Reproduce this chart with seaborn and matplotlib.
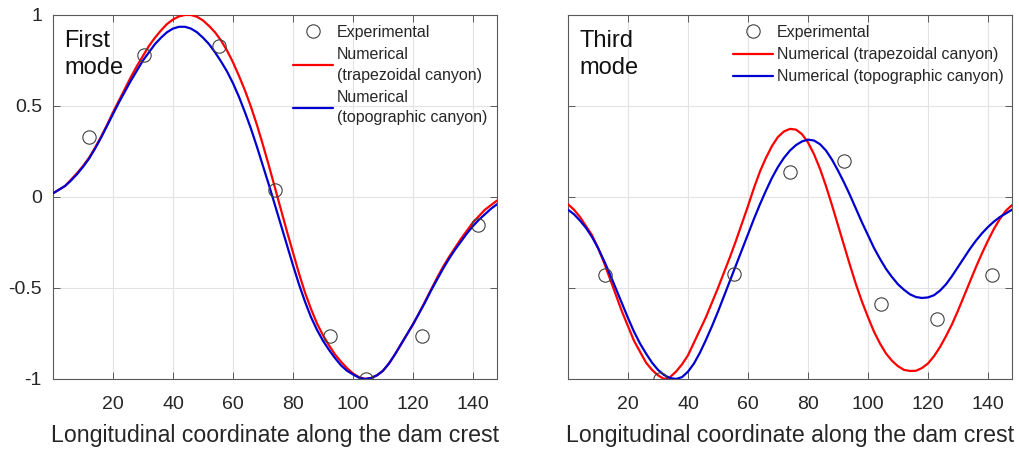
import matplotlib
matplotlib.use("Agg")
import matplotlib.pyplot as plt
import seaborn as sns

sns.set_theme(style="whitegrid")
plt.rcParams["font.family"] = ["Liberation Sans", "DejaVu Sans"]
plt.rcParams["axes.unicode_minus"] = False

# positions along the crest where the curves were read (every 2 units)
x_curve = [0, 2, 4, 6, 8, 10, 12, 14, 16, 18, 20, 22, 24, 26, 28, 30, 32, 34, 36, 38,
           40, 42, 44, 46, 48, 50, 52, 54, 56, 58, 60, 62, 64, 66, 68, 70, 72, 74, 76,
           78, 80, 82, 84, 86, 88, 90, 92, 94, 96, 98, 100, 102, 104, 106, 108, 110,
           112, 114, 116, 118, 120, 122, 124, 126, 128, 130, 132, 134, 136, 138, 140,
           142, 144, 146, 148]

# first mode
first_trap = [0.02, 0.04, 0.06, 0.095, 0.13, 0.17, 0.215, 0.27, 0.33, 0.395, 0.465,
              0.53, 0.595, 0.66, 0.72, 0.775, 0.83, 0.875, 0.915, 0.95, 0.975, 0.992,
              1.00, 1.00, 0.99, 0.97, 0.94, 0.905, 0.86, 0.805, 0.74, 0.665, 0.585,
              0.495, 0.395, 0.285, 0.17, 0.05, -0.07, -0.19, -0.305, -0.42, -0.525,
              -0.615, -0.695, -0.76, -0.815, -0.865, -0.905, -0.94, -0.97, -0.99,
              -1.00, -0.995, -0.98, -0.955, -0.915, -0.865, -0.81, -0.755, -0.70,
              -0.64, -0.575, -0.51, -0.445, -0.385, -0.33, -0.28, -0.23, -0.185,
              -0.14, -0.105, -0.07, -0.045, -0.02]
first_topo = [0.02, 0.04, 0.06, 0.09, 0.125, 0.165, 0.21, 0.265, 0.325, 0.39, 0.455,
              0.52, 0.58, 0.64, 0.695, 0.75, 0.795, 0.84, 0.875, 0.905, 0.925, 0.935,
              0.935, 0.925, 0.905, 0.875, 0.84, 0.795, 0.745, 0.69, 0.625, 0.55,
              0.465, 0.375, 0.275, 0.17, 0.065, -0.045, -0.155, -0.265, -0.375, -0.48,
              -0.575, -0.66, -0.73, -0.79, -0.84, -0.885, -0.925, -0.955, -0.975,
              -0.993, -1.00, -0.995, -0.98, -0.955, -0.915, -0.865, -0.81, -0.755,
              -0.70, -0.64, -0.58, -0.515, -0.455, -0.395, -0.34, -0.29, -0.245,
              -0.20, -0.16, -0.125, -0.095, -0.065, -0.04]
first_exp_x = [12.1, 30.5, 55.2, 73.9, 92.2, 104.4, 123.0, 141.7]
first_exp_y = [0.33, 0.78, 0.83, 0.037, -0.766, -1.00, -0.766, -0.156]

# third mode
third_trap = [-0.04, -0.07, -0.11, -0.16, -0.21, -0.28, -0.36, -0.45, -0.54, -0.63,
              -0.71, -0.79, -0.85, -0.91, -0.95, -0.98, -1.00, -0.99, -0.96, -0.92,
              -0.87, -0.80, -0.73, -0.66, -0.58, -0.50, -0.415, -0.33, -0.24, -0.145,
              -0.05, 0.05, 0.14, 0.215, 0.28, 0.33, 0.36, 0.374, 0.37, 0.345, 0.30,
              0.235, 0.155, 0.06, -0.045, -0.155, -0.265, -0.375, -0.48, -0.575,
              -0.66, -0.74, -0.805, -0.86, -0.90, -0.93, -0.95, -0.956, -0.955,
              -0.94, -0.915, -0.875, -0.825, -0.765, -0.70, -0.625, -0.545, -0.465,
              -0.385, -0.31, -0.24, -0.175, -0.12, -0.075, -0.045]
third_topo = [-0.07, -0.095, -0.13, -0.17, -0.22, -0.28, -0.35, -0.425, -0.505,
              -0.585, -0.665, -0.74, -0.805, -0.86, -0.91, -0.95, -0.978, -0.995,
              -1.00, -0.99, -0.96, -0.915, -0.855, -0.785, -0.71, -0.63, -0.545,
              -0.46, -0.375, -0.29, -0.205, -0.12, -0.04, 0.035, 0.105, 0.165, 0.215,
              0.255, 0.285, 0.305, 0.315, 0.31, 0.29, 0.255, 0.205, 0.145, 0.08, 0.01,
              -0.065, -0.14, -0.21, -0.28, -0.34, -0.395, -0.44, -0.48, -0.51, -0.535,
              -0.55, -0.555, -0.552, -0.54, -0.515, -0.48, -0.435, -0.385, -0.335,
              -0.285, -0.24, -0.20, -0.165, -0.135, -0.11, -0.09, -0.07]
third_exp_x = [12.3, 30.8, 55.4, 73.9, 92.1, 104.4, 122.9, 141.4]
third_exp_y = [-0.43, -1.00, -0.425, 0.135, 0.198, -0.59, -0.67, -0.43]

x_ticks = [20, 40, 60, 80, 100, 120, 140]
y_ticks = [-1, -0.5, 0, 0.5, 1]
y_tick_labels = ["-1", "-0.5", "0", "0.5", "1"]


def draw_panel(ax, trap, topo, exp_x, exp_y, mode_text, leg_labels, leg_anchor):
    sns.lineplot(x=x_curve, y=trap, ax=ax, color="#ff0000", linewidth=1.6,
                 label=leg_labels[1], zorder=3)
    sns.lineplot(x=x_curve, y=topo, ax=ax, color="#0000d0", linewidth=1.6,
                 label=leg_labels[2], zorder=3)
    sns.lineplot(x=exp_x, y=exp_y, ax=ax, color="#404040", linestyle="none",
                 marker="o", markersize=9.6, markerfacecolor="none",
                 markeredgecolor="#404040", markeredgewidth=0.8,
                 label=leg_labels[0], zorder=4)

    ax.set_xlim(0, 148)
    ax.set_ylim(-1, 1)
    ax.set_xticks(x_ticks)
    ax.set_yticks(y_ticks)
    ax.grid(True, color="#e3e3e3", linewidth=0.8)
    for s in ax.spines.values():
        s.set_color("#5a5a5a")
        s.set_linewidth(0.8)
    ax.tick_params(direction="in", length=5, width=0.7, color="#5a5a5a",
                   top=True, right=True, bottom=True, left=True,
                   labelsize=14, labelcolor="#262626", pad=8)
    ax.tick_params(axis="x", pad=12)
    ax.set_xlabel("Longitudinal coordinate along the dam crest", fontsize=16.7,
                  color="#262626", labelpad=8)
    ax.set_ylabel("")

    ax.text(0.025, 0.96, mode_text, transform=ax.transAxes, fontsize=17,
            va="top", ha="left", color="#111111", linespacing=1.3)

    handles, labels = ax.get_legend_handles_labels()
    order = [2, 0, 1]
    leg = ax.legend([handles[i] for i in order], [labels[i] for i in order],
                    loc="upper right", bbox_to_anchor=leg_anchor, frameon=False,
                    fontsize=11.5, handlelength=2.5, handletextpad=0.25,
                    labelspacing=0.45, borderaxespad=0.0, labelcolor="#262626")
    for t in leg.get_texts():
        t.set_linespacing(1.45)


fig = plt.figure(figsize=(10.19, 4.49), dpi=100)
ax1 = fig.add_axes([0.052, 0.156, 0.4357, 0.8107])
ax2 = fig.add_axes([0.5574, 0.156, 0.4357, 0.8107])

draw_panel(ax1, first_trap, first_topo, first_exp_x, first_exp_y, "First\nmode",
           ["Experimental", "Numerical\n(trapezoidal canyon)",
            "Numerical\n(topographic canyon)"], (0.992, 0.99))
ax1.set_yticklabels(y_tick_labels)

draw_panel(ax2, third_trap, third_topo, third_exp_x, third_exp_y, "Third\nmode",
           ["Experimental", "Numerical (trapezoidal canyon)",
            "Numerical (topographic canyon)"], (0.996, 0.99))
ax2.set_yticklabels([])

fig.savefig("out.png", dpi=100)
